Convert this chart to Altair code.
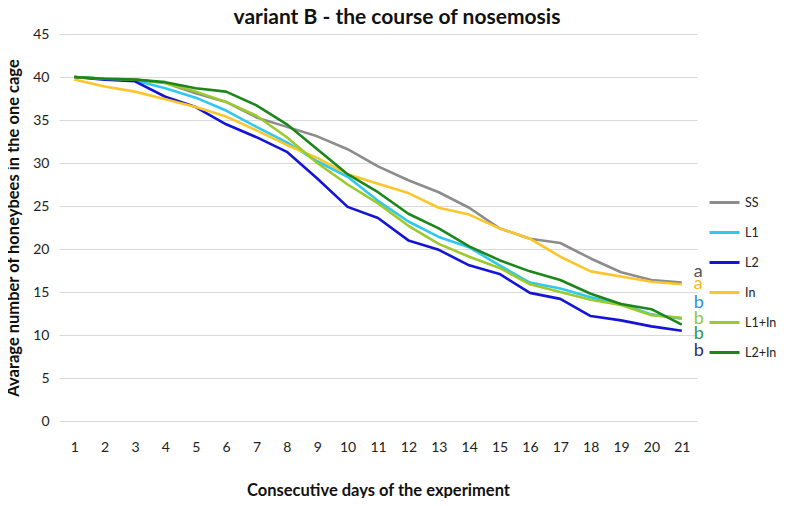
import altair as alt
import pandas as pd

days = list(range(1, 22))
series_names = ["SS", "L1", "L2", "In", "L1+In", "L2+In"]
series_colors = ["#8c8c8c", "#2ec8f0", "#1414d6", "#fbc62a", "#9cc92c", "#1c861c"]

ss = [40.0, 39.8, 39.7, 39.3, 38.1, 37.1, 35.3, 34.2, 33.1, 31.6, 29.6, 28.0, 26.6, 24.8, 22.4, 21.2, 20.7, 18.9, 17.3, 16.4, 16.1]
l1 = [40.0, 39.8, 39.6, 38.7, 37.6, 36.1, 34.2, 32.4, 30.2, 28.4, 25.6, 23.2, 21.4, 20.2, 18.1, 16.1, 15.4, 14.4, 13.6, 12.4, 11.9]
l2 = [40.0, 39.7, 39.5, 37.7, 36.5, 34.5, 33.0, 31.3, 28.2, 24.9, 23.6, 21.0, 19.9, 18.1, 17.1, 14.9, 14.2, 12.2, 11.7, 11.0, 10.5]
inn = [39.7, 38.9, 38.3, 37.4, 36.5, 35.4, 33.8, 32.1, 30.6, 28.7, 27.6, 26.5, 24.8, 24.0, 22.4, 21.2, 19.1, 17.4, 16.8, 16.2, 15.9]
l1in = [40.0, 39.8, 39.7, 39.3, 38.3, 37.1, 35.5, 33.0, 30.0, 27.5, 25.3, 22.7, 20.6, 19.1, 17.8, 15.9, 15.0, 14.1, 13.5, 12.3, 12.0]
l2in = [40.0, 39.8, 39.7, 39.4, 38.7, 38.3, 36.7, 34.5, 31.6, 28.7, 26.6, 24.1, 22.4, 20.3, 18.7, 17.4, 16.4, 14.8, 13.6, 13.0, 11.2]

letters = ["a", "a", "b", "b", "b", "b"]
letter_y = [16.8, 15.35, 13.1, 11.3, 9.55, 7.6]
letter_colors = ["#555555", "#f2b824", "#2b8fd6", "#8dc63f", "#2e9455", "#2b2d7e"]

y_ticks = [0, 5, 10, 15, 20, 25, 30, 35, 40, 45]

rows = []
for name, vals in zip(series_names, [ss, l1, l2, inn, l1in, l2in]):
    for d, v in zip(days, vals):
        rows.append({"day": d, "value": v, "series": name})
df = pd.DataFrame(rows)

df_letters = pd.DataFrame({
    "day": [21] * len(letters),
    "value": letter_y,
    "letter": letters,
    "col": letter_colors,
})

FONT = "Lato"

x_enc = alt.X(
    "day:O",
    scale=alt.Scale(type="point", padding=0.5),
    axis=alt.Axis(
        title="Consecutive days of the experiment",
        labelAngle=0,
        ticks=False,
        domain=False,
        grid=False,
        labelPadding=19,
        labelFontSize=14,
        labelColor="#222222",
        labelFont=FONT,
        titleFont=FONT,
        titleFontSize=16.5,
        titleFontWeight="bold",
        titleColor="#111111",
        titleY=61,
        titleBaseline="top",
    ),
)
y_enc = alt.Y(
    "value:Q",
    scale=alt.Scale(domain=[0, 45], nice=False),
    axis=alt.Axis(
        title="Avarage number of honeybees in the one cage",
        values=y_ticks,
        ticks=False,
        domain=False,
        grid=True,
        gridColor="#d9d9d9",
        gridWidth=1,
        labelPadding=10,
        labelFontSize=14,
        labelColor="#222222",
        labelFont=FONT,
        titleFont=FONT,
        titleFontSize=16.5,
        titleFontWeight="bold",
        titleColor="#111111",
        titleX=-46,
        titleAngle=270,
        titleBaseline="middle",
    ),
)

lines = alt.Chart(df).mark_line(strokeWidth=2.6, strokeJoin="round").encode(
    x=x_enc,
    y=y_enc,
    color=alt.Color(
        "series:N",
        scale=alt.Scale(domain=series_names, range=series_colors),
        sort=series_names,
        legend=alt.Legend(
            title=None,
            orient="none",
            legendX=649,
            legendY=152,
            symbolType="stroke",
            symbolSize=900,
            symbolStrokeWidth=3,
            rowPadding=7,
            labelFontSize=12.5,
            labelFont=FONT,
            labelColor="#222222",
            labelOffset=4,
        ),
    ),
    order=alt.Order("day:Q"),
)

texts = alt.Chart(df_letters).mark_text(
    align="left", baseline="alphabetic", dx=12, fontSize=18, font=FONT
).encode(
    x=alt.X("day:O", scale=alt.Scale(type="point", padding=0.5)),
    y=alt.Y("value:Q", scale=alt.Scale(domain=[0, 45], nice=False)),
    text="letter:N",
    color=alt.Color("col:N", scale=None),
)

chart = (
    alt.layer(lines, texts)
    .resolve_scale(color="independent")
    .properties(
        width=638,
        height=387,
        autosize=alt.AutoSizeParams(type="none"),
        padding={"left": 51, "top": 26, "right": 83, "bottom": 77},
        title=alt.TitleParams(
            "variant B - the course of nosemosis",
            font=FONT,
            fontSize=21,
            fontWeight="bold",
            color="#111111",
            offset=1,
            dy=2,
            dx=19,
        ),
    )
    .configure_view(stroke=None)
)

chart.save("out.html", embed_options={"renderer": "svg", "actions": False})
